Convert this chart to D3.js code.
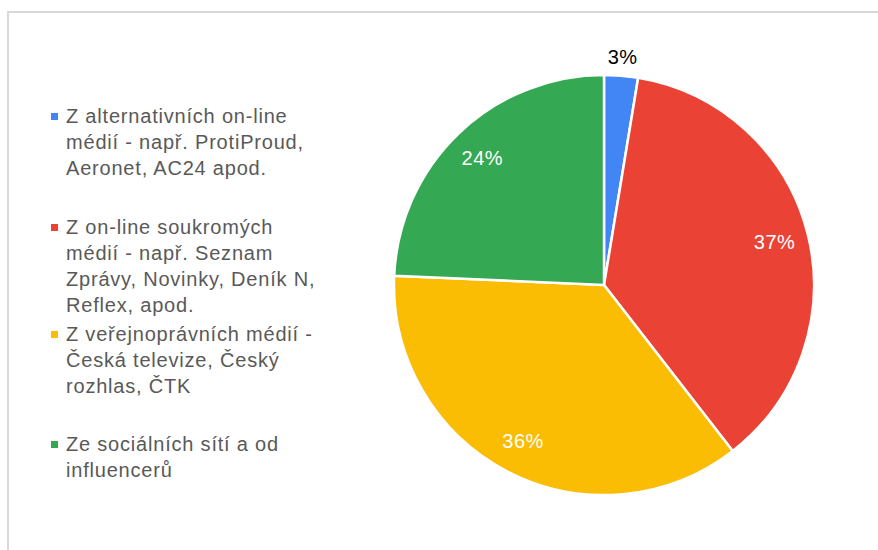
<!DOCTYPE html>
<html>
<head>
<meta charset="utf-8">
<script src="https://cdn.jsdelivr.net/npm/d3@7"></script>
<style>
    body { margin: 0; background: #fff; }
    svg { display: block; font-family: 'Liberation Sans', Arial, sans-serif; }
</style>
</head>
<body>
<svg width="878" height="550"></svg>
<script>
const categories = [
    'Z alternativních on-line médií - např. ProtiProud, Aeronet, AC24 apod.',
    'Z on-line soukromých médií - např. Seznam Zprávy, Novinky, Deník N, Reflex, apod.',
    'Z veřejnoprávních médií - Česká televize, Český rozhlas, ČTK',
    'Ze sociálních sítí a od influencerů'
];
const legendLines = [
    ['Z alternativních on-line', 'médií - např. ProtiProud,', 'Aeronet, AC24 apod.'],
    ['Z on-line soukromých', 'médií - např. Seznam', 'Zprávy, Novinky, Deník N,', 'Reflex, apod.'],
    ['Z veřejnoprávních médií -', 'Česká televize, Český', 'rozhlas, ČTK'],
    ['Ze sociálních sítí a od', 'influencerů']
];
const values = [2.6, 36.9, 36.2, 24.3];
const labels = ['3%', '37%', '36%', '24%'];
const colors = ['#4285f4', '#ea4335', '#fbbc04', '#34a853'];

const svg = d3.select('svg');

// frame
svg.append('path')
    .attr('d', 'M8,550 V12 H878')
    .attr('fill', 'none')
    .attr('stroke', '#d9d9d9')
    .attr('stroke-width', 2);

const cx = 604, cy = 285, r = 210;
const g = svg.append('g').attr('transform', `translate(${cx},${cy})`);

const pie = d3.pie().sort(null).value((d) => d);
const arcs = pie(values);
const arc = d3.arc().innerRadius(0).outerRadius(r);
const labelArc = d3.arc().innerRadius(176).outerRadius(176);
const outerArc = d3.arc().innerRadius(r + 19).outerRadius(r + 19);

g.selectAll('path.slice')
    .data(arcs)
    .join('path')
    .attr('class', 'slice')
    .attr('d', arc)
    .attr('fill', (d, i) => colors[i])
    .attr('stroke', '#fff')
    .attr('stroke-width', 2.5);

g.selectAll('text.lbl')
    .data(arcs)
    .join('text')
    .attr('class', 'lbl')
    .attr('transform', (d, i) => {
        const p = i === 0 ? outerArc.centroid(d) : labelArc.centroid(d);
        return `translate(${p[0]},${p[1]})`;
    })
    .attr('text-anchor', 'middle')
    .attr('dy', '0.35em')
    .attr('font-size', 20)
    .attr('letter-spacing', 0.5)
    .attr('fill', (d, i) => (i === 0 ? '#000' : '#fff'))
    .text((d, i) => labels[i]);

// legend
const legendTop = [116, 227, 334, 444];
const lineH = 26;
const legend = svg.append('g');
legendLines.forEach((lines, i) => {
    legend.append('rect')
        .attr('x', 51)
        .attr('y', legendTop[i] - 3)
        .attr('width', 7)
        .attr('height', 7)
        .attr('fill', colors[i]);
    const t = legend.append('text')
        .attr('font-size', 20)
        .attr('letter-spacing', 0.8)
        .attr('fill', '#595959');
    lines.forEach((ln, j) => {
        t.append('tspan')
            .attr('x', 66)
            .attr('y', legendTop[i] + j * lineH)
            .attr('dy', '0.35em')
            .text(ln);
    });
});
</script>
</body>
</html>
